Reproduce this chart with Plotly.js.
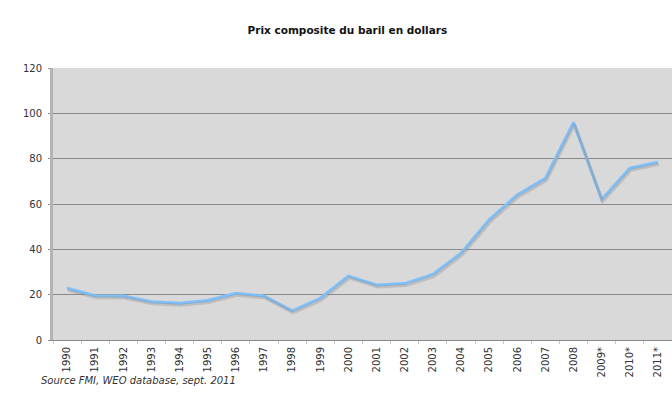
<!DOCTYPE html>
<html>
<head>
<meta charset="utf-8">
<script src="https://cdn.plot.ly/plotly-3.0.1.min.js"></script>
<style>html,body{margin:0;padding:0;background:#fff;}#chart{width:672px;height:417px;}</style>
</head>
<body>
<div id="chart"></div>
<script>
var years = ["1990","1991","1992","1993","1994","1995","1996","1997","1998","1999","2000","2001","2002","2003","2004","2005","2006","2007","2008","2009*","2010*","2011*"];
var prices = [22.8,19.5,19.4,16.9,16.2,17.4,20.6,19.4,12.9,18.4,28.2,24.3,24.9,28.9,38.3,53.0,64.0,71.3,96.0,62.0,75.8,78.4];
var yTicks = [0,20,40,60,80,100,120];
var titleText = "Prix composite du baril en dollars";
var sourceText = "Source FMI, WEO database, sept. 2011";

var n = years.length;
var traces = [
  {x: years, y: prices, type: "scatter", mode: "lines", xaxis: "x2", yaxis: "y2",
   line: {color: "rgba(140,140,140,0.35)", width: 3}, hoverinfo: "skip", showlegend: false},
  {x: years, y: prices, type: "scatter", mode: "lines",
   line: {color: "#80bff8", width: 3}, showlegend: false}
];
var font = {family: "DejaVu Sans, Verdana, sans-serif", size: 10, color: "#333"};
var layout = {
  width: 672, height: 417,
  margin: {l: 53, r: 0, t: 68, b: 77},
  paper_bgcolor: "#ffffff",
  plot_bgcolor: "#d9d9d9",
  font: font,
  title: {text: "<b>" + titleText + "</b>", x: 0.517, xanchor: "center", y: 0.928, yanchor: "middle",
          font: {family: "DejaVu Sans, Verdana, sans-serif", size: 10.5, color: "#111"}},
  xaxis: {type: "category", range: [-0.5, n - 0.5], tickangle: -90, showgrid: false, zeroline: false,
          showline: true, linecolor: "#8c8c8c", linewidth: 1, ticks: "outside", tickson: "boundaries",
          ticklen: 3, tickcolor: "#c8c8c8", ticklabelstandoff: 2,
          tickfont: {family: "DejaVu Sans, Verdana, sans-serif", size: 10, color: "#333"}, fixedrange: true},
  yaxis: {range: [0, 120], tickvals: yTicks, ticktext: yTicks.map(String), showgrid: true, gridcolor: "#8a8a8a",
          gridwidth: 1, zeroline: false, showline: true, linecolor: "#8c8c8c", ticks: "outside", ticklen: 4,
          tickcolor: "#8c8c8c", ticklabelstandoff: 4,
          tickfont: {family: "DejaVu Sans, Verdana, sans-serif", size: 10, color: "#333"}, fixedrange: true},
  xaxis2: {type: "category", overlaying: "x", range: [-0.54, n - 0.54], visible: false, fixedrange: true},
  yaxis2: {overlaying: "y", range: [0.9, 120.9], visible: false, fixedrange: true},
  shapes: [
    {type: "rect", xref: "x domain", yref: "y domain", xsizemode: "pixel", xanchor: 0, x0: -3, x1: 0, y0: 0, y1: 1,
     fillcolor: "#b4b4b4", line: {width: 0}, layer: "above"}
  ],
  annotations: [
    {text: "<i>" + sourceText + "</i>", xref: "paper", yref: "paper", x: -0.022, y: -0.12, xanchor: "left", yanchor: "top",
     showarrow: false, font: {family: "DejaVu Sans, Verdana, sans-serif", size: 10, color: "#333"}}
  ]
};
Plotly.newPlot("chart", traces, layout, {displayModeBar: false, staticPlot: true});
</script>
</body>
</html>
